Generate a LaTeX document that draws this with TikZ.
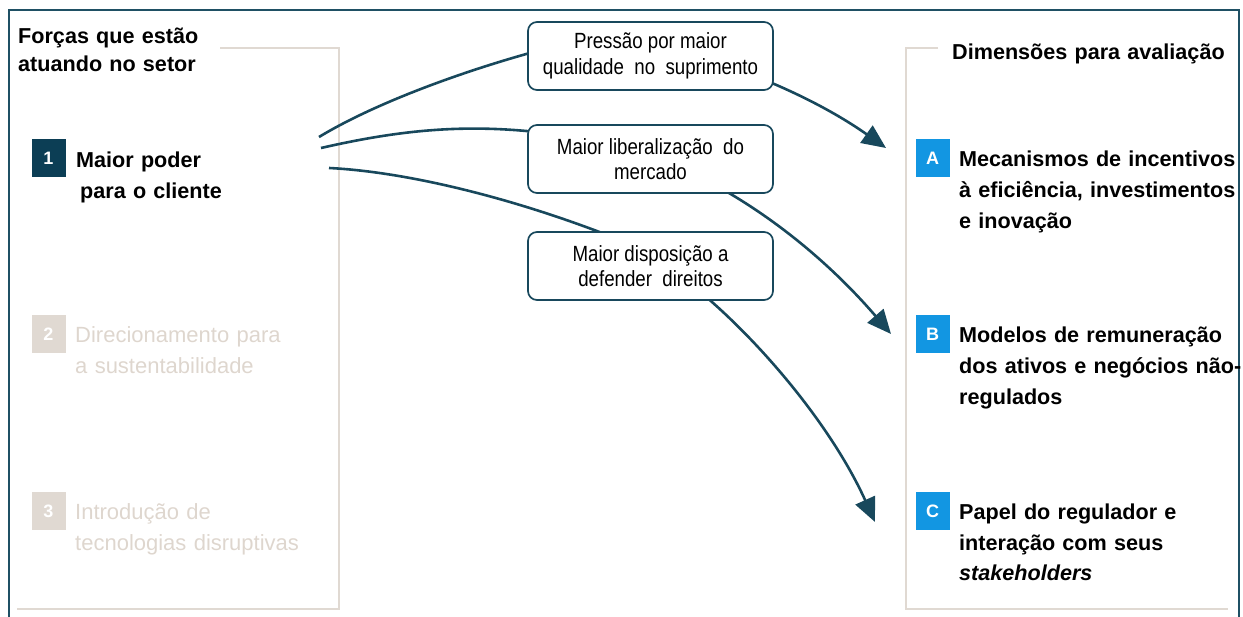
\documentclass[tikz,border=0pt]{standalone}
\usepackage{fontspec}
\setmainfont{Liberation Sans}
\newfontfamily\narrowfont[FakeStretch=0.85]{Liberation Sans}
\usetikzlibrary{arrows.meta}
\definecolor{frameteal}{RGB}{31,80,100}
\definecolor{linkteal}{RGB}{24,72,92}
\definecolor{navybox}{RGB}{12,62,85}
\definecolor{beige}{RGB}{224,217,210}
\definecolor{fadedtext}{RGB}{222,214,206}
\definecolor{dimblue}{RGB}{18,150,226}

\begin{document}
\begin{tikzpicture}[x=1pt,y=-1pt,
  numbox/.style={minimum width=34pt,minimum height=38pt,inner sep=0pt,
    font=\fontsize{18}{18}\selectfont\bfseries,text=white},
  item/.style={anchor=base west,inner sep=0pt,align=left,text width=300pt,
    font=\fontsize{21.6}{31}\selectfont\bfseries},
  heading/.style={item,font=\fontsize{21.6}{28}\selectfont\bfseries},
  fadeditem/.style={item,font=\fontsize{22}{31}\selectfont,text=fadedtext},
  pressbox/.style={draw=linkteal,line width=1.7pt,rounded corners=9pt,fill=white,
    minimum width=245pt,minimum height=68pt,align=center,inner sep=0pt,
    font=\narrowfont\fontsize{22}{25.5}\selectfont},
  bracket/.style={draw=beige,line width=2.4pt},
  link/.style={draw=linkteal,line width=2.6pt,-{Triangle[length=24pt,width=21pt]}},
]
\useasboundingbox (0,0) rectangle (1243,617);

% outer frame (open at the bottom)
\draw[frameteal,line width=2.5pt] (9,625) -- (9,10) -- (1239,10) -- (1239,625);

% panel brackets
\draw[bracket] (220,48) -- (339,48) -- (339,609) -- (17,609);
\draw[bracket] (938,48) -- (906,48) -- (906,609) -- (1228,609);

% left panel: forces
\node[heading] (forces) at (18,44) {Forças que estão\\atuando no setor};
\node[numbox,fill=navybox] (n1) at (48.5,158) {1};
\node[item] (f1) at (76,167.5) {Maior poder\\\hspace*{4pt}para o cliente};
\node[numbox,fill=beige] (n2) at (48.5,334.5) {2};
\node[fadeditem] (f2) at (75,343) {Direcionamento para\\a sustentabilidade};
\node[numbox,fill=beige] (n3) at (48.5,511) {3};
\node[fadeditem] (f3) at (75,519.5) {Introdução de\\tecnologias disruptivas};

% right panel: dimensions
\node[heading] (dims) at (952,60) {Dimensões para avaliação};
\node[numbox,fill=dimblue] (na) at (932.5,158) {A};
\node[item] (da) at (959,166.5) {Mecanismos de incentivos\\à eficiência, investimentos\\e inovação};
\node[numbox,fill=dimblue] (nb) at (932.5,334) {B};
\node[item] (db) at (959,342.5) {Modelos de remuneração\\dos ativos e negócios não-\\regulados};
\node[numbox,fill=dimblue] (nc) at (932.5,511) {C};
\node[item] (dc) at (959,519) {Papel do regulador e\\interação com seus\\\textit{stakeholders}};

% connector end points
\coordinate (s1) at (319,137);
\coordinate (m1) at (560,45);
\coordinate (t1) at (886,148);
\coordinate (s2) at (321,148);
\coordinate (m2) at (560,135);
\coordinate (t2) at (891,334);
\coordinate (s3) at (329,168);
\coordinate (m3) at (620,240);
\coordinate (t3) at (875,522);

% connectors, passing behind the pressure boxes
\draw[link] (s1) .. controls (380,100) and (480,65) .. (m1)
               .. controls (640,25) and (790,80) .. (t1);
\draw[link] (s2) .. controls (400,130) and (470,122) .. (m2)
               .. controls (680,145) and (800,228) .. (t2);
\draw[link] (s3) .. controls (410,172) and (520,200) .. (m3)
               .. controls (700,272) and (820,400) .. (t3);

% pressure boxes
\node[pressbox] (q1) at (650.5,56) {Pressão por maior\\qualidade\ \ no\ \ suprimento};
\node[pressbox] (q2) at (650.5,159) {Maior liberalização\ \ do\\mercado};
\node[pressbox] (q3) at (650.5,266) {Maior disposição a\\defender\ \ direitos};
\end{tikzpicture}
\end{document}
